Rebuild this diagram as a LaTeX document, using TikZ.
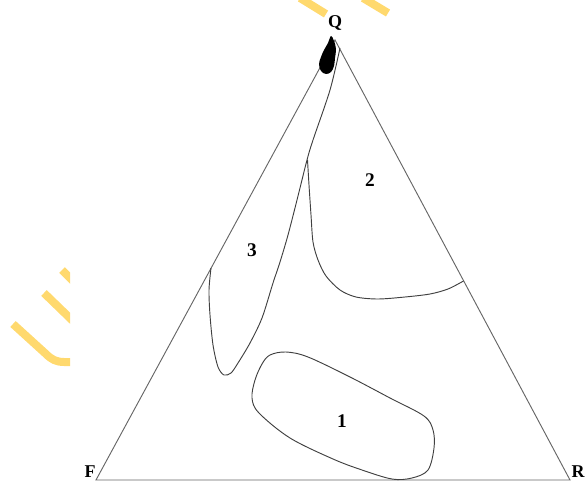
\documentclass[tikz,border=0pt]{standalone}
\usepackage{fontspec}
\setmainfont{Liberation Serif}
\usepackage{xcolor}

\definecolor{markyellow}{RGB}{255,217,110}

\tikzset{
  side line/.style={draw=black!60, line width=0.7pt},
  field line/.style={draw=black!75, line width=0.7pt},
  corner label/.style={font=\bfseries\fontsize{13.5}{13.5}\selectfont, inner sep=0pt},
  field label/.style={font=\bfseries\fontsize{14.5}{14.5}\selectfont, inner sep=0pt},
  mark stroke/.style={draw=markyellow, line width=6pt}
}

\begin{document}
\begin{tikzpicture}[x=0.75pt,y=-0.75pt]
    \useasboundingbox (0,0) rectangle (585,481);
    % corners of the triangle
    \coordinate (q) at (335,40);
    \coordinate (f) at (96,480);
    \coordinate (r) at (570,480);
    \draw[side line] (f)--(q)--(r)--cycle;
    % field 1
    \draw[field line] plot[smooth cycle,tension=0.55] coordinates {(270,355) (286,352) (308,357) (350,377) (390,398) (424,416) (433,430) (434,448) (428,470) (412,478) (392,479) (362,470) (333,459) (290,438) (259,413) (252,398) (255,380) (262,364)};
    % field 3
    \draw[field line] plot[smooth,tension=0.5] coordinates {(340,48) (330,90) (313,140) (307,160) (297,200) (288,235) (280,262) (273,283) (262,318) (250,343) (238,363) (231,373) (224,375) (218,367) (213,345) (210,315) (209,290) (211,268)};
    % field 2
    \draw[field line] plot[smooth,tension=0.5] coordinates {(307.5,160) (309,185) (311,215) (313,242) (318,260) (326,276) (340,290) (356,297) (378,299) (405,297) (430,294) (448,289) (463.5,281)};
    % samples near Q
    \fill[black] plot[smooth cycle,tension=0.6] coordinates {(331,36) (334,41) (336,49) (335,58) (334,66) (331,72) (326,74) (321,71) (319,64) (321,57) (324,50) (328,43)};
    % labels
    \node[corner label] (lq) at (335,23) {Q};
    \node[corner label] (lf) at (90,472) {F};
    \node[corner label] (lr) at (578,472) {R};
    \node[field label] (n1) at (342,421) {1};
    \node[field label] (n2) at (370,180) {2};
    \node[field label] (n3) at (252,250) {3};
    % yellow marks
    \draw[mark stroke] (300,-2)--(326,14);
    \draw[mark stroke] (363,-2)--(388,13);
    \begin{scope}
      \clip (0,250) rectangle (70,380);
      \draw[mark stroke] (62,270)--(80,288);
      \draw[mark stroke] (44,293)--(75,323);
      \draw[mark stroke] (13,324)--(46,354) to[out=-45,in=180] (64,362)--(80,362);
    \end{scope}
\end{tikzpicture}
\end{document}
